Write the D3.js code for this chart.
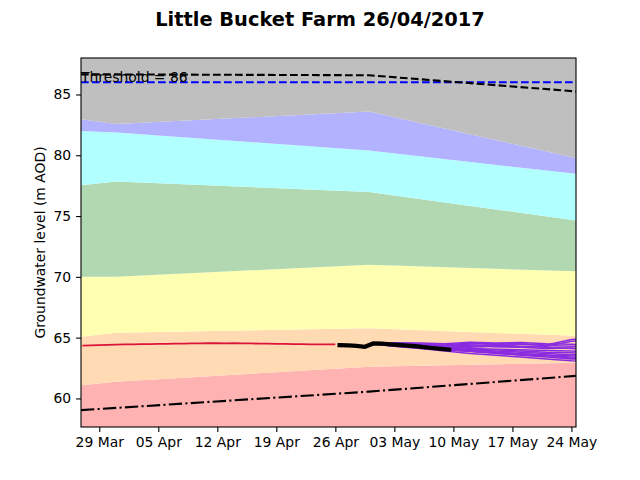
<!DOCTYPE html>
<html>
<head>
<meta charset="utf-8">
<script src="https://cdn.jsdelivr.net/npm/d3@7"></script>
<style>
  body { margin: 0; background: #fff; }
  svg { font-family: "DejaVu Sans", sans-serif; }
</style>
</head>
<body>
<div id="chart"></div>
<script>
// percentile band edges, monthly knots (first knot = left edge of view)
const bandDates = ["2017-03-26T20:00", "2017-03-31T00:00", "2017-04-30T00:00", "2017-05-31T00:00"];
const bandP1 = [61.09, 61.37, 62.60, 63.02];
const bandP2 = [65.08, 65.40, 65.77, 64.99];
const bandP3 = [70.00, 70.00, 71.00, 70.31];
const bandP4 = [77.54, 77.85, 76.97, 74.03];
const bandP5 = [82.00, 81.87, 80.39, 77.97];
const bandP6 = [82.97, 82.58, 83.60, 78.76];
const maxLevel = [86.65, 86.65, 86.58, 84.90];
const minLevel = [59.04, 59.22, 60.56, 62.20];

const threshold = 86;

// historic record (daily)
const histStart = "2017-03-27";
const histValues = [64.35, 64.37, 64.39, 64.41, 64.43, 64.44, 64.45, 64.46, 64.47, 64.48,
                    64.49, 64.50, 64.51, 64.52, 64.53, 64.54, 64.54, 64.53, 64.54, 64.53,
                    64.52, 64.51, 64.50, 64.49, 64.48, 64.47, 64.46, 64.45, 64.45, 64.44, 64.44];

// observed (daily at midday)
const obsStart = "2017-04-26T12:00";
const obsValues = [64.38, 64.36, 64.32, 64.25, 64.52, 64.50, 64.45, 64.40, 64.35, 64.30,
                   64.22, 64.15, 64.08, 64.02];

// forecast ensemble
const fcDates = ["2017-04-30T12:00", "2017-05-03", "2017-05-06", "2017-05-09", "2017-05-12",
                 "2017-05-15", "2017-05-18", "2017-05-21", "2017-05-24", "2017-05-26"];
const fcTraces = [
  [64.5, 64.58, 64.55, 64.50, 64.62, 64.55, 64.60, 64.50, 64.45, 64.40],
  [64.5, 64.52, 64.45, 64.40, 64.55, 64.45, 64.50, 64.40, 64.85, 64.90],
  [64.5, 64.45, 64.35, 64.25, 64.20, 64.30, 64.25, 64.30, 64.70, 64.80],
  [64.5, 64.40, 64.30, 64.20, 64.10, 64.05, 64.00, 63.95, 63.90, 63.85],
  [64.5, 64.40, 64.25, 64.10, 64.00, 63.90, 63.80, 63.70, 63.60, 63.55],
  [64.5, 64.35, 64.20, 64.05, 63.90, 63.75, 63.60, 63.50, 63.40, 63.35],
  [64.5, 64.30, 64.15, 64.00, 63.85, 63.70, 63.55, 63.40, 63.25, 63.20],
  [64.5, 64.30, 64.10, 63.90, 63.70, 63.55, 63.40, 63.25, 63.10, 63.05],
  [64.5, 64.50, 64.45, 64.35, 64.40, 64.25, 64.20, 64.10, 64.15, 64.10],
  [64.5, 64.40, 64.30, 64.20, 64.30, 64.40, 64.30, 64.20, 64.10, 64.05],
  [64.5, 64.48, 64.40, 64.35, 64.48, 64.50, 64.45, 64.35, 64.30, 64.30],
  [64.5, 64.35, 64.25, 64.15, 64.05, 64.00, 63.90, 63.80, 63.75, 63.70],
  [64.5, 64.38, 64.22, 64.08, 63.95, 63.82, 63.68, 63.58, 63.50, 63.45],
  [64.5, 64.33, 64.18, 64.02, 63.88, 63.78, 63.65, 63.55, 63.30, 63.28]
];

const xTicks = ["2017-03-29", "2017-04-05", "2017-04-12", "2017-04-19", "2017-04-26",
                "2017-05-03", "2017-05-10", "2017-05-17", "2017-05-24"];
const yTicks = [60, 65, 70, 75, 80, 85];

const W = 640, H = 480;
const margin = {top: 58, right: 64, bottom: 53, left: 81};
const iw = W - margin.left - margin.right;
const ih = H - margin.top - margin.bottom;

const parse = d3.utcParse("%Y-%m-%dT%H:%M");
const pd = s => parse(s.length === 10 ? s + "T00:00" : s);

const x = d3.scaleUtc()
    .domain([pd("2017-03-26T20:00"), pd("2017-05-24T13:00")])
    .range([0, iw]);
const y = d3.scaleLinear()
    .domain([57.65, 88.0])
    .range([ih, 0]);

const svg = d3.select("#chart").append("svg")
    .attr("width", W)
    .attr("height", H);

svg.append("defs").append("clipPath")
    .attr("id", "clip")
    .append("rect")
    .attr("width", iw)
    .attr("height", ih);

const g = svg.append("g")
    .attr("transform", `translate(${margin.left},${margin.top})`);

const plot = g.append("g").attr("clip-path", "url(#clip)");

const bd = bandDates.map(pd);
const yLo = y.domain()[0], yHi = y.domain()[1];
const bottomEdge = bd.map(() => yLo);
const topEdge = bd.map(() => yHi);

const bands = [
    {lo: bottomEdge, hi: bandP1, color: "#ffb2b2"},
    {lo: bandP1, hi: bandP2, color: "#ffdab2"},
    {lo: bandP2, hi: bandP3, color: "#ffffb2"},
    {lo: bandP3, hi: bandP4, color: "#b2d8b2"},
    {lo: bandP4, hi: bandP5, color: "#b2ffff"},
    {lo: bandP5, hi: bandP6, color: "#b2b2ff"},
    {lo: bandP6, hi: topEdge, color: "#bfbfbf"}
];

const area = d3.area()
    .x(d => x(d.date))
    .y0(d => y(d.lo))
    .y1(d => y(d.hi));

plot.selectAll(".band")
    .data(bands)
    .enter().append("path")
    .attr("class", "band")
    .attr("fill", d => d.color)
    .attr("d", b => area(bd.map((date, i) => ({date: date, lo: b.lo[i], hi: b.hi[i]}))));

const line = d3.line()
    .x(d => x(d[0]))
    .y(d => y(d[1]));

// threshold
plot.append("path")
    .attr("d", line(x.domain().map(d => [d, threshold])))
    .attr("fill", "none")
    .attr("stroke", "#0000ff")
    .attr("stroke-width", 2.1)
    .attr("stroke-dasharray", "7.7,3.3");

// max / min
plot.append("path")
    .attr("d", line(bd.map((d, i) => [d, maxLevel[i]])))
    .attr("fill", "none")
    .attr("stroke", "#000")
    .attr("stroke-width", 2.1)
    .attr("stroke-dasharray", "7.7,3.3");

plot.append("path")
    .attr("d", line(bd.map((d, i) => [d, minLevel[i]])))
    .attr("fill", "none")
    .attr("stroke", "#000")
    .attr("stroke-width", 2.1)
    .attr("stroke-dasharray", "13.3,3.3,2.1,3.3");

// historic
const h0 = pd(histStart);
plot.append("path")
    .attr("d", line(histValues.map((v, i) => [d3.utcDay.offset(h0, i), v])))
    .attr("fill", "none")
    .attr("stroke", "#dc143c")
    .attr("stroke-width", 1.8);

// forecasts
const fd = fcDates.map(pd);
plot.selectAll(".fc")
    .data(fcTraces)
    .enter().append("path")
    .attr("class", "fc")
    .attr("d", t => line(t.map((v, i) => [fd[i], v])))
    .attr("fill", "none")
    .attr("stroke", "#8a2be2")
    .attr("stroke-width", 1.5);

// observed
const o0 = pd(obsStart);
plot.append("path")
    .attr("d", line(obsValues.map((v, i) => [d3.utcDay.offset(o0, i), v])))
    .attr("fill", "none")
    .attr("stroke", "#000")
    .attr("stroke-width", 4.2)
    .attr("stroke-linecap", "square");

g.append("text")
    .attr("x", 0)
    .attr("y", y(threshold))
    .attr("font-size", "13.9px")
    .attr("fill", "#000")
    .text("Threshold = " + threshold);

// axes
const xAxis = d3.axisBottom(x)
    .tickValues(xTicks.map(pd))
    .tickFormat(d3.utcFormat("%d %b"))
    .tickSize(4.9)
    .tickPadding(4.9);
const yAxis = d3.axisLeft(y)
    .tickValues(yTicks)
    .tickSize(4.9)
    .tickPadding(4.9);

g.append("g")
    .attr("transform", `translate(0,${ih})`)
    .call(xAxis)
    .call(a => a.select(".domain").remove())
    .selectAll("text")
    .attr("font-size", "13.9px")
    .attr("font-family", "DejaVu Sans")
    .attr("fill", "#000");

g.append("g")
    .call(yAxis)
    .call(a => a.select(".domain").remove())
    .selectAll("text")
    .attr("font-size", "13.9px")
    .attr("font-family", "DejaVu Sans")
    .attr("fill", "#000");

g.selectAll(".tick line").attr("stroke", "#000").attr("stroke-width", 1.1);

g.append("rect")
    .attr("width", iw)
    .attr("height", ih)
    .attr("fill", "none")
    .attr("stroke", "#000")
    .attr("stroke-width", 1.1);

svg.append("text")
    .attr("x", 40)
    .attr("y", margin.top + ih / 2)
    .attr("transform", `rotate(-90,40,${margin.top + ih / 2})`)
    .attr("text-anchor", "middle")
    .attr("dominant-baseline", "central")
    .attr("font-size", "13.9px")
    .text("Groundwater level (m AOD)");

svg.append("text")
    .attr("x", W / 2)
    .attr("y", 26)
    .attr("text-anchor", "middle")
    .attr("font-size", "19.4px")
    .attr("font-weight", "bold")
    .text("Little Bucket Farm 26/04/2017");
</script>
</body>
</html>
